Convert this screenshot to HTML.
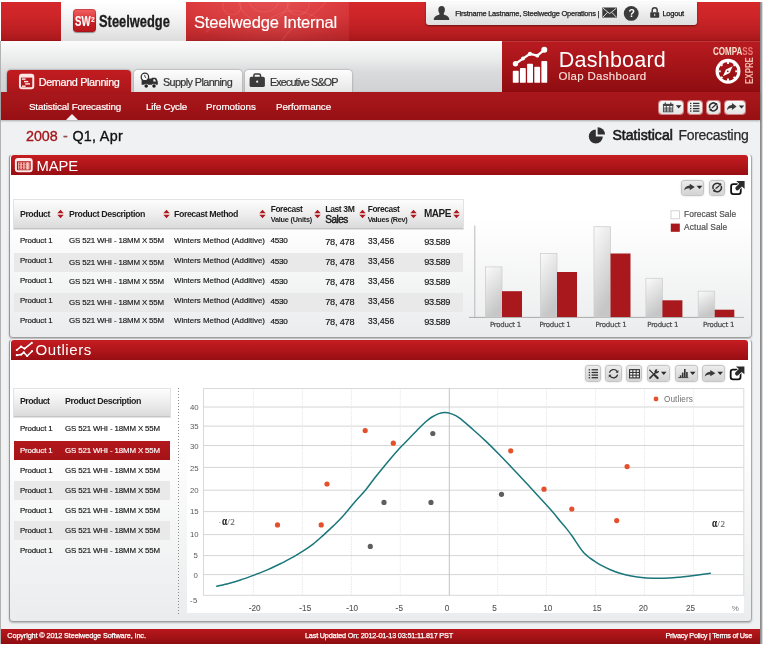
<!DOCTYPE html>
<html lang="en"><head><meta charset="utf-8"><title>Steelwedge Internal - Olap Dashboard</title>
<style>
html,body{margin:0;padding:0}
body{width:763px;height:646px;position:relative;overflow:hidden;background:#fff;font-family:"Liberation Sans",sans-serif}
div,svg,span.t{position:absolute}
span.t{white-space:nowrap;display:block}
#page{left:1px;top:2px;width:759px;height:642px;background:#f0f1f2}
#edgeL{left:0;top:41px;width:1px;height:603px;background:#b2b2b2}
#edgeR{left:760px;top:2px;width:1px;height:642px;background:#8d8d8d}
#edgeR2{left:761px;top:2px;width:2px;height:642px;background:linear-gradient(90deg,#a2a2a2 50%,#dcdcdc 50%)}
#hdr{left:1px;top:2px;width:759px;height:39px;background:linear-gradient(#d6282b,#cb2427 42%,#b81d21 80%,#a6171b);box-shadow:inset 0 -1px 0 #9a1418}
#hdrglow{left:186px;top:2px;width:163px;height:39px;overflow:hidden;background:linear-gradient(90deg,rgba(255,150,150,.10),rgba(255,150,150,.16) 60%,rgba(255,150,150,.10)),radial-gradient(ellipse 110px 40px at 80px 0,rgba(255,140,140,.25),rgba(255,140,140,0))}
#logo{left:61px;top:2px;width:125px;height:39px;background:linear-gradient(#ffffff,#f1f1f1 50%,#dcdcdc)}
#swicon{left:73.3px;top:9px;width:23px;height:23px;border-radius:4px;background:linear-gradient(#f06264,#d93033 48%,#c92226 52%,#b5171b);box-shadow:0 1px 1px rgba(0,0,0,.4),inset 0 0 0 1px rgba(150,10,15,.35)}
#user{left:426px;top:2px;width:270.7px;height:23px;border-radius:0 0 3px 3px;background:linear-gradient(#fbfbfb,#dedede);box-shadow:0 1px 2px rgba(0,0,0,.45)}
#band{left:1px;top:41px;width:759px;height:51px;background:linear-gradient(#fcfcfc,#e9eaea 38%,#d9dadb 62%,#cfd1d2)}
#dash{left:502px;top:41px;width:258px;height:51px;background:linear-gradient(#b81b20,#a41418 50%,#8e0d11);box-shadow:inset 0 1px 0 rgba(255,255,255,.12)}
.tab{top:70px;height:22px;border-radius:4px 4px 0 0}
#tab1{left:7px;width:124px;background:linear-gradient(#c21c20,#ab171b);box-shadow:0 0 2px rgba(0,0,0,.5)}
#tab2{left:134px;width:108px}
#tab3{left:245px;width:107px}
#tab2,#tab3{background:linear-gradient(#fdfdfd,#e6e6e6);box-shadow:0 0 2px rgba(0,0,0,.45)}
#subnav{left:1px;top:92px;width:759px;height:28px;background:linear-gradient(#a9171b,#a21418 50%,#960f13);box-shadow:0 1px 2px rgba(0,0,0,.3)}
#notch{left:66px;top:114px;width:0;height:0;border-left:6px solid transparent;border-right:6px solid transparent;border-bottom:6px solid #f2f2f2}
.btn{border-radius:3px;background:linear-gradient(#ececec,#d3d3d3);box-shadow:0 0 0 1px #c6c6c6,0 0 2px 1px rgba(0,0,0,.18)}
.nb{background:linear-gradient(#fafafa,#e4e4e4);box-shadow:0 0 0 1px rgba(255,220,220,.55)}
.panel{left:9px;width:741px;border:1px solid #adadad;border-color:#ececec #a9a9a9 #9f9f9f #979797;border-radius:4px;background:linear-gradient(#ffffff,#ffffff 35%,#ebeced);box-shadow:0 1px 2px rgba(0,0,0,.25)}
.phead{left:11px;width:737px;height:20px;border-radius:3px 3px 0 0;background:linear-gradient(#c51c21,#b0161a 50%,#970e12)}
.thead{height:28px;background:linear-gradient(#fdfdfd,#eeeeee 50%,#dadada);border-bottom:1px solid #c4c4c4;box-shadow:0 0 0 1px #e3e3e3}
.row{height:20px;background:#e9e9e9}
.rowsel{height:19px;background:linear-gradient(#b3181d,#a51317)}
#foot{left:1px;top:629px;width:759px;height:15px;background:linear-gradient(#b8171c,#a51317 50%,#8d0c10)}
</style></head><body>
<div id="page"></div>
<div id="edgeL"></div><div id="edgeR"></div><div id="edgeR2"></div>
<div id="hdr"></div><div id="hdrglow"><svg style="left:0;top:0" width="163" height="39" viewBox="0 0 163 39"><g fill="none" stroke="#ff9b9b" stroke-opacity=".16" stroke-width="1.2"><circle cx="78" cy="-6" r="16"/><circle cx="78" cy="-6" r="26"/><circle cx="112" cy="2" r="11"/><circle cx="46" cy="4" r="9"/><path d="M20 30C40 10 60 34 82 18S120 8 150 26"/><path d="M96 39C104 22 124 20 140 0"/></g></svg></div>
<div id="logo"></div><div id="swicon"></div>
<div id="user"></div>
<div id="band"></div>
<div id="dash"></div>
<div class="tab" id="tab1"></div><div class="tab" id="tab2"></div><div class="tab" id="tab3"></div>
<div id="subnav"></div><div id="notch"></div>
<div class="panel" style="top:154px;height:182px"></div>
<div class="phead" style="top:155px"></div>
<div class="thead" style="left:14px;top:200px;width:449px"></div>
<div class="row" style="left:14px;top:253px;width:449px;height:19.4px"></div>
<div class="row" style="left:14px;top:293px;width:449px;height:19.4px"></div>
<svg style="left:57.0px;top:209.4px" width="7" height="10" viewBox="0 0 7 10"><path d="M3.5 0.8 L6.7 4.3 H0.3 Z M3.5 9.2 L6.7 5.7 H0.3 Z" fill="#b0171c"/></svg>
<svg style="left:163.0px;top:209.4px" width="7" height="10" viewBox="0 0 7 10"><path d="M3.5 0.8 L6.7 4.3 H0.3 Z M3.5 9.2 L6.7 5.7 H0.3 Z" fill="#b0171c"/></svg>
<svg style="left:258.6px;top:209.4px" width="7" height="10" viewBox="0 0 7 10"><path d="M3.5 0.8 L6.7 4.3 H0.3 Z M3.5 9.2 L6.7 5.7 H0.3 Z" fill="#b0171c"/></svg>
<svg style="left:314.4px;top:209.4px" width="7" height="10" viewBox="0 0 7 10"><path d="M3.5 0.8 L6.7 4.3 H0.3 Z M3.5 9.2 L6.7 5.7 H0.3 Z" fill="#b0171c"/></svg>
<svg style="left:358.9px;top:209.4px" width="7" height="10" viewBox="0 0 7 10"><path d="M3.5 0.8 L6.7 4.3 H0.3 Z M3.5 9.2 L6.7 5.7 H0.3 Z" fill="#b0171c"/></svg>
<svg style="left:410.3px;top:209.4px" width="7" height="10" viewBox="0 0 7 10"><path d="M3.5 0.8 L6.7 4.3 H0.3 Z M3.5 9.2 L6.7 5.7 H0.3 Z" fill="#b0171c"/></svg>
<svg style="left:453.0px;top:209.4px" width="7" height="10" viewBox="0 0 7 10"><path d="M3.5 0.8 L6.7 4.3 H0.3 Z M3.5 9.2 L6.7 5.7 H0.3 Z" fill="#b0171c"/></svg>
<svg style="left:0;top:0" width="763" height="646" viewBox="0 0 763 646"><defs><linearGradient id="gb" x1="0" y1="0" x2="0.35" y2="1"><stop offset="0" stop-color="#fbfbfb"/><stop offset="1" stop-color="#c6c6c6"/></linearGradient></defs><path d="M474.8 225.6V318" stroke="#b9b9b9" stroke-width="1" fill="none"/><path d="M469 317.4H744" stroke="#a9a9a9" stroke-width="1" fill="none"/><rect x="485.4" y="266.9" width="16.6" height="50.1" fill="url(#gb)" stroke="#cfcfcf" stroke-width="0.8"/><rect x="502" y="291.2" width="20.0" height="25.8" fill="#a9181d"/><rect x="540.5" y="253.5" width="16.5" height="63.5" fill="url(#gb)" stroke="#cfcfcf" stroke-width="0.8"/><rect x="557" y="272" width="20.0" height="45.0" fill="#a9181d"/><rect x="594" y="226.7" width="16.5" height="90.3" fill="url(#gb)" stroke="#cfcfcf" stroke-width="0.8"/><rect x="610.5" y="253.5" width="20.0" height="63.5" fill="#a9181d"/><rect x="645.9" y="278.3" width="16.5" height="38.7" fill="url(#gb)" stroke="#cfcfcf" stroke-width="0.8"/><rect x="662.4" y="300.3" width="20.0" height="16.7" fill="#a9181d"/><rect x="698.2" y="291.2" width="16.5" height="25.8" fill="url(#gb)" stroke="#cfcfcf" stroke-width="0.8"/><rect x="714.7" y="309.7" width="19.6" height="7.3" fill="#a9181d"/><rect x="671" y="210.8" width="8.5" height="8" fill="#fff" stroke="#c9c9c9" stroke-width="0.8"/><rect x="670.8" y="223.6" width="9" height="8.2" fill="#a9181d"/></svg>
<div class="panel" style="top:339px;height:281px"></div>
<div class="phead" style="top:340px"></div>
<div class="thead" style="left:14px;top:389px;width:156px;height:27px"></div>
<div class="rowsel" style="left:14px;top:441px;width:156px"></div>
<div class="row" style="left:14px;top:481px;width:156px;height:19px"></div>
<div class="row" style="left:14px;top:521px;width:156px;height:19px"></div>
<div style="left:177.5px;top:388px;width:1px;height:226px;background:repeating-linear-gradient(#8c8c8c 0,#8c8c8c 1px,transparent 1px,transparent 3px)"></div>
<div style="left:187px;top:388px;width:557px;height:225px;background:#fff"></div>
<svg style="left:0;top:0" width="763" height="646" viewBox="0 0 763 646"><rect x="203.5" y="388.5" width="540.3" height="206.8" fill="#fff" stroke="#d9d9d9" stroke-width="1"/><path d="M203.5 407H743.8" stroke="#d6d6d6" stroke-width="1"/><path d="M203.5 426.1H743.8" stroke="#d6d6d6" stroke-width="1"/><path d="M203.5 445.5H743.8" stroke="#d6d6d6" stroke-width="1"/><path d="M203.5 467.4H743.8" stroke="#d6d6d6" stroke-width="1"/><path d="M203.5 490.2H743.8" stroke="#d6d6d6" stroke-width="1"/><path d="M203.5 511.6H743.8" stroke="#d6d6d6" stroke-width="1"/><path d="M203.5 534.6H743.8" stroke="#d6d6d6" stroke-width="1"/><path d="M203.5 555.6H743.8" stroke="#d6d6d6" stroke-width="1"/><path d="M203.5 574.6H743.8" stroke="#d6d6d6" stroke-width="1"/><path d="M253.4 388.5V595.3" stroke="#e4e4e4" stroke-width="0.8" stroke-dasharray="1.5 1"/><path d="M302.4 388.5V595.3" stroke="#e4e4e4" stroke-width="0.8" stroke-dasharray="1.5 1"/><path d="M351.4 388.5V595.3" stroke="#e4e4e4" stroke-width="0.8" stroke-dasharray="1.5 1"/><path d="M400.3 388.5V595.3" stroke="#e4e4e4" stroke-width="0.8" stroke-dasharray="1.5 1"/><path d="M497.7 388.5V595.3" stroke="#e4e4e4" stroke-width="0.8" stroke-dasharray="1.5 1"/><path d="M546.4 388.5V595.3" stroke="#e4e4e4" stroke-width="0.8" stroke-dasharray="1.5 1"/><path d="M595.6 388.5V595.3" stroke="#e4e4e4" stroke-width="0.8" stroke-dasharray="1.5 1"/><path d="M644.5 388.5V595.3" stroke="#e4e4e4" stroke-width="0.8" stroke-dasharray="1.5 1"/><path d="M693.4 388.5V595.3" stroke="#e4e4e4" stroke-width="0.8" stroke-dasharray="1.5 1"/><path d="M449.3 388.5V595.3" stroke="#c4c4c4" stroke-width="1"/><path d="M216.8 586.3C218.8 585.8 224.7 584.4 228.6 583.4C232.5 582.4 236.2 581.4 240.4 580C244.7 578.6 249.5 576.8 254.1 575.1C258.7 573.4 263.3 571.6 267.9 569.6C272.5 567.6 277.4 565.2 281.7 563.1C286.0 561.0 289.9 558.8 293.5 556.8C297.1 554.8 300.0 553.0 303.3 550.9C306.6 548.8 309.8 546.6 313.1 544.1C316.4 541.6 319.6 538.6 322.9 535.6C326.2 532.6 329.5 529.6 332.8 526.4C336.1 523.2 338.9 520.6 342.6 516.5C346.3 512.4 351.2 506.2 355 501.8C358.8 497.4 362.4 493.9 365.6 490C368.8 486.1 371.3 482.3 374.1 478.7C376.9 475.1 379.8 471.7 382.6 468.2C385.4 464.7 388.3 461.2 391.1 457.9C393.9 454.6 396.8 451.3 399.6 448.2C402.5 445.1 405.4 442.4 408.2 439.5C411.0 436.6 413.9 433.6 416.7 430.7C419.5 427.8 422.6 424.5 425.2 422.2C427.8 419.9 429.7 418.4 432 417C434.3 415.6 436.7 414.4 438.8 413.6C440.9 412.9 442.8 412.5 444.8 412.5C446.8 412.5 448.4 412.7 450.8 413.6C453.2 414.5 455.6 415.2 459.3 417.9C463.0 420.6 468.7 425.8 473.2 429.7C477.7 433.6 481.9 437.4 486.3 441.6C490.7 445.8 495.1 450.2 499.5 454.7C503.9 459.2 508.2 463.8 512.6 468.4C517.0 473.0 521.4 477.7 525.8 482.4C530.2 487.1 534.5 492.0 538.9 496.8C543.3 501.6 548.6 507.3 552.1 511.3C555.6 515.3 557.6 518.1 560 521C562.4 523.9 564.2 525.8 566.3 528.4C568.4 531.0 570.5 533.8 572.6 536.8C574.7 539.8 577.0 543.5 578.9 546.2C580.8 548.9 582.4 551.2 584.1 553.1C585.9 555.0 587.5 556.2 589.4 557.7C591.3 559.2 593.5 560.6 595.6 561.9C597.7 563.2 599.5 564.4 601.9 565.7C604.3 567.0 607.1 568.4 610.3 569.7C613.4 571.0 617.3 572.5 620.8 573.5C624.3 574.5 627.4 575.3 631.3 576C635.1 576.7 639.7 577.3 643.9 577.7C648.1 578.1 652.3 578.2 656.5 578.3C660.7 578.4 664.8 578.3 669 578.1C673.2 577.9 677.4 577.4 681.6 577C685.8 576.6 690.4 576.1 694.2 575.6C698.1 575.1 702.0 574.5 704.7 574.1C707.4 573.7 709.4 573.4 710.3 573.3" fill="none" stroke="#19767a" stroke-width="1.5" stroke-linejoin="round" stroke-linecap="round"/><circle cx="277.5" cy="524.9" r="2.6" fill="#e4502a"/><circle cx="321.2" cy="524.9" r="2.6" fill="#e4502a"/><circle cx="327" cy="484" r="2.6" fill="#e4502a"/><circle cx="365.2" cy="430.6" r="2.6" fill="#e4502a"/><circle cx="393.3" cy="443.2" r="2.6" fill="#e4502a"/><circle cx="510.7" cy="450.8" r="2.6" fill="#e4502a"/><circle cx="544" cy="489.2" r="2.6" fill="#e4502a"/><circle cx="571.8" cy="509" r="2.6" fill="#e4502a"/><circle cx="616.7" cy="520.6" r="2.6" fill="#e4502a"/><circle cx="627.1" cy="466.6" r="2.6" fill="#e4502a"/><circle cx="432.8" cy="433.5" r="2.6" fill="#5e5e5e"/><circle cx="501.5" cy="494.3" r="2.6" fill="#5e5e5e"/><circle cx="384" cy="502.4" r="2.6" fill="#5e5e5e"/><circle cx="431" cy="502.4" r="2.6" fill="#5e5e5e"/><circle cx="370.3" cy="546.4" r="2.6" fill="#5e5e5e"/><circle cx="656" cy="399" r="2.4" fill="#e4502a"/></svg>
<div id="foot"></div>
<div class="btn nb" style="left:659.1px;top:100.5px;width:24.3px;height:13.4px"></div>
<div class="btn nb" style="left:687.6px;top:100.5px;width:14.1px;height:13.4px"></div>
<div class="btn nb" style="left:706.5px;top:100.5px;width:13.4px;height:13.4px"></div>
<div class="btn nb" style="left:724.5px;top:100.5px;width:20.4px;height:13.4px"></div>
<div class="btn" style="left:682.2px;top:180.8px;width:20.6px;height:14.3px"></div>
<div class="btn" style="left:710.3px;top:180.8px;width:13.4px;height:14.3px"></div>
<div class="btn" style="left:585.8px;top:366.4px;width:14.6px;height:14.5px"></div>
<div class="btn" style="left:606.2px;top:366.4px;width:14.9px;height:14.5px"></div>
<div class="btn" style="left:627.4px;top:366.4px;width:13.7px;height:14.5px"></div>
<div class="btn" style="left:648.3px;top:366.4px;width:20.9px;height:14.5px"></div>
<div class="btn" style="left:676.4px;top:366.4px;width:21.1px;height:14.5px"></div>
<div class="btn" style="left:703.0px;top:366.4px;width:21.1px;height:14.5px"></div>
<svg style="left:0;top:0" width="763" height="646" viewBox="0 0 763 646"><ellipse cx="441.6" cy="9.8" rx="3.3" ry="3.9" fill="#3b3b3b"/><path d="M433.8 19.9C433.8 16.4 436.6 15.7 439.4 14.6L439.5 12H443.7L443.8 14.6C446.6 15.7 449.3 16.4 449.3 19.9Z" fill="#3b3b3b"/><rect x="602.3" y="7.5" width="14.7" height="10.1" fill="#3b3b3b"/><path d="M602.9 8.1L609.65 13.6L616.4 8.1M602.9 17.1L607.6 12.3M616.4 17.1L611.7 12.3" stroke="#ececec" stroke-width="0.9" fill="none"/><circle cx="631.2" cy="13.4" r="7.4" fill="#3b3b3b"/><rect x="650.2" y="12.2" width="9" height="5.5" rx="0.7" fill="#3b3b3b"/><path d="M652.2 12.5V10.3a2.5 2.6 0 0 1 5 0V12.5" stroke="#3b3b3b" stroke-width="1.5" fill="none"/><rect x="654.2" y="13.8" width="1" height="2.2" fill="#d8d8d8"/><rect x="512.8" y="70.8" width="5.9" height="12.0" rx="0.9" fill="#fff"/><rect x="519.9" y="68.1" width="5.9" height="14.7" rx="0.9" fill="#fff"/><rect x="527.1" y="63.8" width="5.9" height="19.0" rx="0.9" fill="#fff"/><rect x="534.3" y="66.8" width="5.8" height="16.0" rx="0.9" fill="#fff"/><rect x="541.4" y="60.9" width="5.8" height="21.9" rx="0.9" fill="#fff"/><path d="M515.5 63.8L523 58.6L530 53.8L537.3 55.7L544.3 49.8" stroke="#fff" stroke-width="2.3" fill="none" stroke-linejoin="round"/><circle cx="515.5" cy="63.8" r="2.7" fill="#fff"/><circle cx="523" cy="58.6" r="2.0" fill="#fff"/><circle cx="530" cy="53.8" r="2.1" fill="#fff"/><circle cx="537.3" cy="55.7" r="1.9" fill="#fff"/><circle cx="544.3" cy="49.8" r="3.0" fill="#fff"/><circle cx="728" cy="71.3" r="10.9" stroke="#fff" stroke-width="3.1" fill="none"/><path d="M737.60 71.30L735.30 71.30" stroke="#fff" stroke-width="1.9"/><path d="M734.79 78.09L733.59 76.89" stroke="#fff" stroke-width="1.9"/><path d="M728.00 80.90L728.00 78.60" stroke="#fff" stroke-width="1.9"/><path d="M721.21 78.09L722.41 76.89" stroke="#fff" stroke-width="1.9"/><path d="M718.40 71.30L720.70 71.30" stroke="#fff" stroke-width="1.9"/><path d="M721.21 64.51L722.41 65.71" stroke="#fff" stroke-width="1.9"/><path d="M728.00 61.70L728.00 64.00" stroke="#fff" stroke-width="1.9"/><path d="M734.79 64.51L733.59 65.71" stroke="#fff" stroke-width="1.9"/><path d="M732.70 66.30L729.66 73.12L722.90 76.30L725.94 69.48Z" fill="#fff"/><circle cx="727.8" cy="71.3" r="0.9" fill="#a51419"/><rect x="19.95" y="74.85" width="13.3" height="13.5" rx="2" stroke="#fde6e6" stroke-width="2" fill="none"/><rect x="19.9" y="74.8" width="13.4" height="2.8" fill="#fde6e6"/><rect x="21.9" y="78.4" width="3.7" height="1.4" fill="#fde6e6"/><rect x="24" y="80.9" width="4.2" height="1.4" fill="#fde6e6"/><rect x="25.2" y="83.2" width="4.8" height="1.4" fill="#fde6e6"/><rect x="21.9" y="85.5" width="3.7" height="1.4" fill="#fde6e6"/><path d="M141.6 78.4H151.8V77.8H154.9Q156.3 77.8 156.9 79.2L157.8 81.8V84.8H141.6Z" fill="#303030"/><path d="M153.3 79.2H155L156 81.5H153.3Z" fill="#f2f2f2"/><circle cx="144.9" cy="76.9" r="3.7" fill="#fafafa" stroke="#303030" stroke-width="1.25"/><path d="M144.6 74.9L145.1 77.1L146.2 77.9" stroke="#303030" stroke-width="0.9" fill="none"/><circle cx="146.2" cy="86" r="2.3" fill="#eeeeee"/><circle cx="146.2" cy="86.1" r="1.75" fill="#1e1e1e"/><circle cx="154" cy="86" r="2.3" fill="#eeeeee"/><circle cx="154" cy="86.1" r="1.75" fill="#1e1e1e"/><rect x="249.6" y="76.8" width="15.3" height="10.3" rx="1.9" fill="#3b3b3b"/><path d="M253.9 77.2V75.4a1.4 1.4 0 0 1 1.4-1.4h3.8a1.4 1.4 0 0 1 1.4 1.4V77.2" stroke="#3b3b3b" stroke-width="1.5" fill="none"/><circle cx="257.2" cy="81.7" r="1.1" fill="#f0f0f0"/><rect x="663.4" y="104.4" width="9.4" height="7.4" fill="#f4f4f4" stroke="#444" stroke-width="0.9"/><rect x="663" y="103.9" width="10.2" height="2.1" fill="#444"/><path d="M665.3 102.6V104.6M670.8 102.6V104.6" stroke="#444" stroke-width="1.3"/><path d="M666.3 106V111.8M669.8 106V111.8M663.4 108.1H672.8M663.4 110H672.8" stroke="#3a3a3a" stroke-width="0.9"/><path d="M675.9 105.3H681.4L678.65 108.4Z" fill="#2b2b2b"/><rect x="690" y="102.75" width="1.4" height="1.3" fill="#333"/><rect x="693" y="102.75" width="6.4" height="1.3" fill="#333"/><rect x="690" y="105.25" width="1.4" height="1.3" fill="#333"/><rect x="693" y="105.25" width="6.4" height="1.3" fill="#333"/><rect x="690" y="107.94999999999999" width="1.4" height="1.3" fill="#333"/><rect x="693" y="107.94999999999999" width="6.4" height="1.3" fill="#333"/><rect x="690" y="110.44999999999999" width="1.4" height="1.3" fill="#333"/><rect x="693" y="110.44999999999999" width="6.4" height="1.3" fill="#333"/><path d="M709.73 108.23A3.9 3.9 0 0 1 716.16 104.14M717.07 105.57A3.9 3.9 0 0 1 710.64 109.66" stroke="#2f2f2f" stroke-width="1.5" fill="none"/><circle cx="716.16" cy="104.14" r="1.20" fill="#2f2f2f"/><circle cx="710.64" cy="109.66" r="1.20" fill="#2f2f2f"/><path d="M712.30 107.70L715.10 105.30" stroke="#2f2f2f" stroke-width="1.27" stroke-linecap="round"/><path d="M731.94 103.10L736.60 106.56L731.94 110.01V108.00C729.81 107.85 728.16 108.72 726.90 110.30C727.09 107.28 728.84 105.26 731.94 105.04Z" fill="#3a3a3a"/><path d="M738.8 105.39999999999999H744.2L741.50 108.5Z" fill="#2b2b2b"/><path d="M595.8 136.5V129.5A7 7 0 1 0 602.8 136.5Z" fill="#2f2f2f"/><path d="M597.6 134.6V127.2A7.4 7.4 0 0 1 605 134.6Z" fill="#2f2f2f"/><rect x="15.9" y="158.9" width="15.8" height="12.3" rx="2.2" stroke="#fdecec" stroke-width="2" fill="none"/><rect x="15.9" y="158.9" width="15.8" height="2.3" fill="#fdecec"/><rect x="18" y="162.3" width="11.6" height="7.2" fill="#f0a9a2"/><path d="M19.7 162.6V169.4M22.5 162.6V169.4M25.3 162.6V169.4" stroke="#a4161a" stroke-width="0.9" stroke-dasharray="1.7 0.7"/><path d="M27.6 162.3V169.5" stroke="#f8cfc9" stroke-width="1"/><path d="M16.8 350L21 346.6L24.6 348.6L31.8 342.9" stroke="#fff" stroke-width="1.5" fill="none" stroke-linejoin="round"/><path d="M16.8 355.2L21.2 354.6L23.8 352.4L27.2 356L32 351.2" stroke="#fff" stroke-width="1.5" fill="none" stroke-linejoin="round"/><circle cx="16.8" cy="350" r="1.1" fill="#fff"/><circle cx="21" cy="346.6" r="1.1" fill="#fff"/><circle cx="24.6" cy="348.6" r="1.1" fill="#fff"/><circle cx="31.8" cy="342.9" r="1.1" fill="#fff"/><circle cx="16.8" cy="355.2" r="1.1" fill="#fff"/><circle cx="21.2" cy="354.6" r="1.1" fill="#fff"/><circle cx="23.8" cy="352.4" r="1.1" fill="#fff"/><circle cx="27.2" cy="356" r="1.1" fill="#fff"/><circle cx="32" cy="351.2" r="1.1" fill="#fff"/><path d="M689.71 183.70L694.80 187.01L689.71 190.32V188.39C687.38 188.25 685.58 189.08 684.20 190.60C684.41 187.70 686.32 185.77 689.71 185.56Z" fill="#3a3a3a"/><path d="M696.6 185.70000000000002H702.4L699.50 189.1Z" fill="#2b2b2b"/><path d="M713.25 188.93A4.2 4.2 0 0 1 720.17 184.53M721.15 186.07A4.2 4.2 0 0 1 714.23 190.47" stroke="#2f2f2f" stroke-width="1.5" fill="none"/><circle cx="720.17" cy="184.53" r="1.20" fill="#2f2f2f"/><circle cx="714.23" cy="190.47" r="1.20" fill="#2f2f2f"/><path d="M716.10 188.30L718.90 185.90" stroke="#2f2f2f" stroke-width="1.27" stroke-linecap="round"/><rect x="731.10" y="184.15" width="9.67" height="9.95" rx="2.3" stroke="#111" stroke-width="1.8" fill="none"/><path d="M736.23 181.10H744.60V188.88L741.96 186.52L738.43 190.00Q736.67 191.11 735.79 189.44Q734.61 187.77 736.08 186.66L739.17 183.74Z" fill="#2b2b2b" stroke="#fff" stroke-width="1.5" paint-order="stroke" stroke-linejoin="round"/><rect x="588.7" y="369.15000000000003" width="1.4" height="1.3" fill="#333"/><rect x="591.6" y="369.15000000000003" width="6.4" height="1.3" fill="#333"/><rect x="588.7" y="371.85" width="1.4" height="1.3" fill="#333"/><rect x="591.6" y="371.85" width="6.4" height="1.3" fill="#333"/><rect x="588.7" y="374.45000000000005" width="1.4" height="1.3" fill="#333"/><rect x="591.6" y="374.45000000000005" width="6.4" height="1.3" fill="#333"/><rect x="588.7" y="377.05" width="1.4" height="1.3" fill="#333"/><rect x="591.6" y="377.05" width="6.4" height="1.3" fill="#333"/><path d="M609.5 372.7A4.2 4.2 0 0 1 617.2 371.6M617.6 374.7A4.2 4.2 0 0 1 609.9 375.8" stroke="#2e2e2e" stroke-width="1.2" fill="none"/><path d="M618.3 370V372.7H615.6ZM608.8 377.4V374.7H611.5Z" fill="#2e2e2e"/><rect x="629.6" y="369.7" width="9.8" height="8.2" stroke="#2e2e2e" stroke-width="1.1" fill="#f6f6f6"/><path d="M632.85 369.7V377.9M636.15 369.7V377.9M629.6 372.45H639.4M629.6 375.15H639.4" stroke="#2e2e2e" stroke-width="1"/><path d="M649.6 370L654.2 374.6" stroke="#2e2e2e" stroke-width="1.1" stroke-linecap="round"/><path d="M654.8 375.2L657.6 378" stroke="#2e2e2e" stroke-width="2.3" stroke-linecap="round"/><path d="M649.9 378.1L655.8 372.2" stroke="#2e2e2e" stroke-width="1.5" stroke-linecap="round"/><circle cx="656.7" cy="371.3" r="2.1" fill="#2e2e2e"/><path d="M656.6 371.4L657.7 368.6L659.6 370.4Z" fill="#e0e0e0"/><path d="M661.0 371.7H666.5L663.75 374.9Z" fill="#2b2b2b"/><path d="M678.3 377.6H688.3" stroke="#333" stroke-width="0.9"/><rect x="679.8" y="375.3" width="1.6" height="1.9" fill="#333"/><rect x="681.9" y="372.6" width="1.6" height="4.6" fill="#333"/><rect x="684" y="369" width="1.6" height="8.2" fill="#333"/><rect x="686.1" y="372" width="1.6" height="5.2" fill="#333"/><path d="M689.9 371.7H695.5L692.70 374.9Z" fill="#2b2b2b"/><path d="M710.31 370.00L715.40 373.17L710.31 376.34V374.49C707.98 374.36 706.18 375.15 704.80 376.60C705.01 373.83 706.92 371.98 710.31 371.78Z" fill="#3a3a3a"/><path d="M717.4 371.7H723.0L720.20 374.9Z" fill="#2b2b2b"/><rect x="730.70" y="369.54" width="9.82" height="9.86" rx="2.3" stroke="#111" stroke-width="1.8" fill="none"/><path d="M735.91 366.50H744.40V374.23L741.72 371.88L738.14 375.33Q736.36 376.44 735.46 374.78Q734.27 373.12 735.76 372.02L738.89 369.12Z" fill="#2b2b2b" stroke="#fff" stroke-width="1.5" paint-order="stroke" stroke-linejoin="round"/></svg>
<span class="t" id="t0" style="left:75.4px;top:11.00px;font-size:14.6px;line-height:21px;font-weight:700;color:#ffffff;font-family:'Liberation Sans', sans-serif;transform:scaleX(0.6591);transform-origin:0 50%;-webkit-text-stroke:0.2px #ffffff;">SW</span>
<span class="t" id="t1" style="left:91.2px;top:14.00px;font-size:7.4px;line-height:12px;font-weight:700;color:#ffffff;font-family:'Liberation Sans', sans-serif;transform:scaleX(0.8970);transform-origin:0 50%;-webkit-text-stroke:0.1px #ffffff;">2</span>
<span class="t" id="t2" style="left:99.3px;top:11.00px;font-size:15.6px;line-height:22px;font-weight:700;color:#1c1c1c;font-family:'Liberation Sans', sans-serif;transform:scaleX(0.8264);transform-origin:0 50%;-webkit-text-stroke:0.3px #1c1c1c;">Steelwedge</span>
<span class="t" id="t3" style="left:194px;top:11.00px;font-size:16.5px;line-height:23px;font-weight:400;color:#ffffff;font-family:'Liberation Sans', sans-serif;letter-spacing:-0.150px;-webkit-text-stroke:0.15px #ffffff;">Steelwedge Internal</span>
<span class="t" id="t4" style="left:455.2px;top:8.00px;font-size:7.5px;line-height:12px;font-weight:400;color:#222;font-family:'Liberation Sans', sans-serif;letter-spacing:-0.243px;-webkit-text-stroke:0.25px #222;">Firstname Lastname, Steelwedge Operations |</span>
<span class="t" id="t5" style="left:662.4px;top:8.00px;font-size:7.5px;line-height:12px;font-weight:400;color:#151515;font-family:'Liberation Sans', sans-serif;letter-spacing:-0.226px;-webkit-text-stroke:0.25px #151515;">Logout</span>
<span class="t" id="t6" style="left:628.4px;top:5.00px;font-size:10.5px;line-height:16px;font-weight:700;color:#ffffff;font-family:'Liberation Sans', sans-serif;letter-spacing:-0.822px;">?</span>
<span class="t" id="t7" style="left:558.8px;top:45.00px;font-size:21.5px;line-height:30px;font-weight:400;color:#ffffff;font-family:'Liberation Sans', sans-serif;letter-spacing:0.224px;">Dashboard</span>
<span class="t" id="t8" style="left:558.4px;top:68.00px;font-size:11.5px;line-height:17px;font-weight:400;color:#fbe4de;font-family:'Liberation Sans', sans-serif;letter-spacing:0.318px;-webkit-text-stroke:0.1px #fbe4de;">Olap Dashboard</span>
<span class="t" id="t9" style="left:713.2px;top:44.00px;font-size:10.2px;line-height:15px;font-weight:700;color:#f8e3cf;font-family:'Liberation Sans', sans-serif;transform:scaleX(0.7879);transform-origin:0 50%;">COMPA<span style="color:#ec7a76">SS</span></span>
<span class="t" id="t10" style="left:729.89px;top:62.00px;font-size:11.4px;line-height:17px;font-weight:700;color:#f3b5a8;font-family:'Liberation Sans', sans-serif;transform:rotate(-90deg) scaleX(0.6939);transform-origin:50% 50%;">EXPRE</span>
<span class="t" id="t11" style="left:38.7px;top:74.00px;font-size:10.8px;line-height:16px;font-weight:400;color:#ffffff;font-family:'Liberation Sans', sans-serif;letter-spacing:-0.336px;-webkit-text-stroke:0.2px #ffffff;">Demand Planning</span>
<span class="t" id="t12" style="left:162.9px;top:74.00px;font-size:10.8px;line-height:16px;font-weight:400;color:#333;font-family:'Liberation Sans', sans-serif;letter-spacing:-0.583px;-webkit-text-stroke:0.2px #333;">Supply Planning</span>
<span class="t" id="t13" style="left:269.9px;top:74.00px;font-size:10.8px;line-height:16px;font-weight:400;color:#333;font-family:'Liberation Sans', sans-serif;letter-spacing:-0.858px;-webkit-text-stroke:0.2px #333;">Executive S&amp;OP</span>
<span class="t" id="t14" style="left:29px;top:99.00px;font-size:9.8px;line-height:15px;font-weight:400;color:#ffffff;font-family:'Liberation Sans', sans-serif;letter-spacing:-0.167px;-webkit-text-stroke:0.2px #ffffff;">Statistical Forecasting</span>
<span class="t" id="t15" style="left:146px;top:99.00px;font-size:9.8px;line-height:15px;font-weight:400;color:#ffffff;font-family:'Liberation Sans', sans-serif;letter-spacing:-0.202px;-webkit-text-stroke:0.2px #ffffff;">Life Cycle</span>
<span class="t" id="t16" style="left:206px;top:99.00px;font-size:9.8px;line-height:15px;font-weight:400;color:#ffffff;font-family:'Liberation Sans', sans-serif;letter-spacing:0.044px;-webkit-text-stroke:0.2px #ffffff;">Promotions</span>
<span class="t" id="t17" style="left:276px;top:99.00px;font-size:9.8px;line-height:15px;font-weight:400;color:#ffffff;font-family:'Liberation Sans', sans-serif;letter-spacing:-0.099px;-webkit-text-stroke:0.2px #ffffff;">Performance</span>
<span class="t" id="t18" style="left:26px;top:126.00px;font-size:14.3px;line-height:21px;font-weight:400;color:#a5171c;font-family:'Liberation Sans', sans-serif;letter-spacing:-0.028px;-webkit-text-stroke:0.35px #a5171c;">2008</span>
<span class="t" id="t19" style="left:63px;top:126.00px;font-size:14.3px;line-height:21px;font-weight:400;color:#96494b;font-family:'Liberation Sans', sans-serif;letter-spacing:-0.366px;-webkit-text-stroke:0.3px #96494b;">-</span>
<span class="t" id="t20" style="left:72.4px;top:126.00px;font-size:14.3px;line-height:21px;font-weight:400;color:#111;font-family:'Liberation Sans', sans-serif;letter-spacing:0.302px;-webkit-text-stroke:0.35px #111;">Q1, Apr</span>
<span class="t" id="t21" style="left:612.4px;top:125.00px;font-size:14px;line-height:20px;font-weight:400;color:#1a1a1a;font-family:'Liberation Sans', sans-serif;letter-spacing:0.053px;-webkit-text-stroke:0.6px #1a1a1a;">Statistical</span>
<span class="t" id="t22" style="left:678.4px;top:125.00px;font-size:14px;line-height:20px;font-weight:400;color:#2a2a2a;font-family:'Liberation Sans', sans-serif;letter-spacing:-0.287px;-webkit-text-stroke:0.25px #2a2a2a;">Forecasting</span>
<span class="t" id="t23" style="left:36.6px;top:156.00px;font-size:14.8px;line-height:21px;font-weight:400;color:#ffffff;font-family:'Liberation Sans', sans-serif;letter-spacing:-0.134px;">MAPE</span>
<span class="t" id="t24" style="left:35.4px;top:339.00px;font-size:15px;line-height:22px;font-weight:400;color:#ffffff;font-family:'Liberation Sans', sans-serif;letter-spacing:0.614px;">Outliers</span>
<span class="t" id="t25" style="left:20px;top:208.00px;font-size:8.8px;line-height:13px;font-weight:700;color:#1d1d1d;font-family:'Liberation Sans', sans-serif;letter-spacing:-0.462px;">Product</span>
<span class="t" id="t26" style="left:69px;top:208.00px;font-size:8.8px;line-height:13px;font-weight:700;color:#1d1d1d;font-family:'Liberation Sans', sans-serif;letter-spacing:-0.425px;">Product Description</span>
<span class="t" id="t27" style="left:174px;top:208.00px;font-size:8.8px;line-height:13px;font-weight:700;color:#1d1d1d;font-family:'Liberation Sans', sans-serif;letter-spacing:-0.426px;">Forecast Method</span>
<span class="t" id="t28" style="left:270.7px;top:203.00px;font-size:8.4px;line-height:13px;font-weight:700;color:#1d1d1d;font-family:'Liberation Sans', sans-serif;letter-spacing:-0.403px;">Forecast</span>
<span class="t" id="t29" style="left:270.7px;top:214.00px;font-size:7.3px;line-height:11px;font-weight:700;color:#1d1d1d;font-family:'Liberation Sans', sans-serif;letter-spacing:-0.223px;">Value (Units)</span>
<span class="t" id="t30" style="left:325.3px;top:203.00px;font-size:8.6px;line-height:13px;font-weight:700;color:#1d1d1d;font-family:'Liberation Sans', sans-serif;letter-spacing:-0.414px;">Last 3M</span>
<span class="t" id="t31" style="left:325.3px;top:212.00px;font-size:10px;line-height:15px;font-weight:400;color:#1d1d1d;font-family:'Liberation Sans', sans-serif;letter-spacing:-0.503px;-webkit-text-stroke:0.45px #1d1d1d;">Sales</span>
<span class="t" id="t32" style="left:367.7px;top:203.00px;font-size:8.4px;line-height:13px;font-weight:700;color:#1d1d1d;font-family:'Liberation Sans', sans-serif;letter-spacing:-0.403px;">Forecast</span>
<span class="t" id="t33" style="left:367.7px;top:214.00px;font-size:7.3px;line-height:11px;font-weight:700;color:#1d1d1d;font-family:'Liberation Sans', sans-serif;letter-spacing:-0.301px;">Values (Rev)</span>
<span class="t" id="t34" style="left:424px;top:206.00px;font-size:10px;line-height:15px;font-weight:700;color:#1d1d1d;font-family:'Liberation Sans', sans-serif;letter-spacing:-0.477px;">MAPE</span>
<span class="t" id="t35" style="left:20px;top:235.00px;font-size:7.9px;line-height:12px;font-weight:400;color:#141414;font-family:'Liberation Sans', sans-serif;letter-spacing:-0.142px;-webkit-text-stroke:0.15px #141414;">Product 1</span>
<span class="t" id="t36" style="left:69px;top:235.00px;font-size:7.9px;line-height:12px;font-weight:400;color:#141414;font-family:'Liberation Sans', sans-serif;letter-spacing:-0.141px;-webkit-text-stroke:0.15px #141414;">GS 521 WHI - 18MM X 55M</span>
<span class="t" id="t37" style="left:174px;top:235.00px;font-size:7.9px;line-height:12px;font-weight:400;color:#141414;font-family:'Liberation Sans', sans-serif;letter-spacing:0.009px;-webkit-text-stroke:0.15px #141414;">Winters Method (Additive)</span>
<span class="t" id="t38" style="left:270.6px;top:234.00px;font-size:8.1px;line-height:13px;font-weight:400;color:#141414;font-family:'Liberation Sans', sans-serif;letter-spacing:-0.254px;-webkit-text-stroke:0.2px #141414;">4530</span>
<span class="t" id="t39" style="left:325.2px;top:235.00px;font-size:9.2px;line-height:14px;font-weight:400;color:#141414;font-family:'Liberation Sans', sans-serif;letter-spacing:-0.208px;-webkit-text-stroke:0.15px #141414;">78, 478</span>
<span class="t" id="t40" style="left:367.9px;top:235.00px;font-size:8.4px;line-height:13px;font-weight:400;color:#141414;font-family:'Liberation Sans', sans-serif;letter-spacing:0.129px;-webkit-text-stroke:0.15px #141414;">33,456</span>
<span class="t" id="t41" style="left:424.3px;top:235.00px;font-size:9.2px;line-height:14px;font-weight:400;color:#141414;font-family:'Liberation Sans', sans-serif;letter-spacing:-0.402px;-webkit-text-stroke:0.15px #141414;">93.589</span>
<span class="t" id="t42" style="left:20px;top:255.00px;font-size:7.9px;line-height:12px;font-weight:400;color:#141414;font-family:'Liberation Sans', sans-serif;letter-spacing:-0.142px;-webkit-text-stroke:0.15px #141414;">Product 1</span>
<span class="t" id="t43" style="left:69px;top:257.00px;font-size:7.9px;line-height:12px;font-weight:400;color:#141414;font-family:'Liberation Sans', sans-serif;letter-spacing:-0.141px;-webkit-text-stroke:0.15px #141414;">GS 521 WHI - 18MM X 55M</span>
<span class="t" id="t44" style="left:174px;top:255.00px;font-size:7.9px;line-height:12px;font-weight:400;color:#141414;font-family:'Liberation Sans', sans-serif;letter-spacing:0.009px;-webkit-text-stroke:0.15px #141414;">Winters Method (Additive)</span>
<span class="t" id="t45" style="left:270.6px;top:255.00px;font-size:8.1px;line-height:13px;font-weight:400;color:#141414;font-family:'Liberation Sans', sans-serif;letter-spacing:-0.254px;-webkit-text-stroke:0.2px #141414;">4530</span>
<span class="t" id="t46" style="left:325.2px;top:255.00px;font-size:9.2px;line-height:14px;font-weight:400;color:#141414;font-family:'Liberation Sans', sans-serif;letter-spacing:-0.208px;-webkit-text-stroke:0.15px #141414;">78, 478</span>
<span class="t" id="t47" style="left:367.9px;top:255.00px;font-size:8.4px;line-height:13px;font-weight:400;color:#141414;font-family:'Liberation Sans', sans-serif;letter-spacing:0.129px;-webkit-text-stroke:0.15px #141414;">33,456</span>
<span class="t" id="t48" style="left:424.3px;top:255.00px;font-size:9.2px;line-height:14px;font-weight:400;color:#141414;font-family:'Liberation Sans', sans-serif;letter-spacing:-0.402px;-webkit-text-stroke:0.15px #141414;">93.589</span>
<span class="t" id="t49" style="left:20px;top:275.00px;font-size:7.9px;line-height:12px;font-weight:400;color:#141414;font-family:'Liberation Sans', sans-serif;letter-spacing:-0.142px;-webkit-text-stroke:0.15px #141414;">Product 1</span>
<span class="t" id="t50" style="left:69px;top:276.00px;font-size:7.9px;line-height:12px;font-weight:400;color:#141414;font-family:'Liberation Sans', sans-serif;letter-spacing:-0.141px;-webkit-text-stroke:0.15px #141414;">GS 521 WHI - 18MM X 55M</span>
<span class="t" id="t51" style="left:174px;top:275.00px;font-size:7.9px;line-height:12px;font-weight:400;color:#141414;font-family:'Liberation Sans', sans-serif;letter-spacing:0.009px;-webkit-text-stroke:0.15px #141414;">Winters Method (Additive)</span>
<span class="t" id="t52" style="left:270.6px;top:275.00px;font-size:8.1px;line-height:13px;font-weight:400;color:#141414;font-family:'Liberation Sans', sans-serif;letter-spacing:-0.254px;-webkit-text-stroke:0.2px #141414;">4530</span>
<span class="t" id="t53" style="left:325.2px;top:275.00px;font-size:9.2px;line-height:14px;font-weight:400;color:#141414;font-family:'Liberation Sans', sans-serif;letter-spacing:-0.208px;-webkit-text-stroke:0.15px #141414;">78, 478</span>
<span class="t" id="t54" style="left:367.9px;top:275.00px;font-size:8.4px;line-height:13px;font-weight:400;color:#141414;font-family:'Liberation Sans', sans-serif;letter-spacing:0.129px;-webkit-text-stroke:0.15px #141414;">33,456</span>
<span class="t" id="t55" style="left:424.3px;top:275.00px;font-size:9.2px;line-height:14px;font-weight:400;color:#141414;font-family:'Liberation Sans', sans-serif;letter-spacing:-0.402px;-webkit-text-stroke:0.15px #141414;">93.589</span>
<span class="t" id="t56" style="left:20px;top:295.00px;font-size:7.9px;line-height:12px;font-weight:400;color:#141414;font-family:'Liberation Sans', sans-serif;letter-spacing:-0.142px;-webkit-text-stroke:0.15px #141414;">Product 1</span>
<span class="t" id="t57" style="left:69px;top:297.00px;font-size:7.9px;line-height:12px;font-weight:400;color:#141414;font-family:'Liberation Sans', sans-serif;letter-spacing:-0.141px;-webkit-text-stroke:0.15px #141414;">GS 521 WHI - 18MM X 55M</span>
<span class="t" id="t58" style="left:174px;top:295.00px;font-size:7.9px;line-height:12px;font-weight:400;color:#141414;font-family:'Liberation Sans', sans-serif;letter-spacing:0.009px;-webkit-text-stroke:0.15px #141414;">Winters Method (Additive)</span>
<span class="t" id="t59" style="left:270.6px;top:295.00px;font-size:8.1px;line-height:13px;font-weight:400;color:#141414;font-family:'Liberation Sans', sans-serif;letter-spacing:-0.254px;-webkit-text-stroke:0.2px #141414;">4530</span>
<span class="t" id="t60" style="left:325.2px;top:295.00px;font-size:9.2px;line-height:14px;font-weight:400;color:#141414;font-family:'Liberation Sans', sans-serif;letter-spacing:-0.208px;-webkit-text-stroke:0.15px #141414;">78, 478</span>
<span class="t" id="t61" style="left:367.9px;top:295.00px;font-size:8.4px;line-height:13px;font-weight:400;color:#141414;font-family:'Liberation Sans', sans-serif;letter-spacing:0.129px;-webkit-text-stroke:0.15px #141414;">33,456</span>
<span class="t" id="t62" style="left:424.3px;top:295.00px;font-size:9.2px;line-height:14px;font-weight:400;color:#141414;font-family:'Liberation Sans', sans-serif;letter-spacing:-0.402px;-webkit-text-stroke:0.15px #141414;">93.589</span>
<span class="t" id="t63" style="left:20px;top:315.00px;font-size:7.9px;line-height:12px;font-weight:400;color:#141414;font-family:'Liberation Sans', sans-serif;letter-spacing:-0.142px;-webkit-text-stroke:0.15px #141414;">Product 1</span>
<span class="t" id="t64" style="left:69px;top:315.00px;font-size:7.9px;line-height:12px;font-weight:400;color:#141414;font-family:'Liberation Sans', sans-serif;letter-spacing:-0.141px;-webkit-text-stroke:0.15px #141414;">GS 521 WHI - 18MM X 55M</span>
<span class="t" id="t65" style="left:174px;top:315.00px;font-size:7.9px;line-height:12px;font-weight:400;color:#141414;font-family:'Liberation Sans', sans-serif;letter-spacing:0.009px;-webkit-text-stroke:0.15px #141414;">Winters Method (Additive)</span>
<span class="t" id="t66" style="left:270.6px;top:315.00px;font-size:8.1px;line-height:13px;font-weight:400;color:#141414;font-family:'Liberation Sans', sans-serif;letter-spacing:-0.254px;-webkit-text-stroke:0.2px #141414;">4530</span>
<span class="t" id="t67" style="left:325.2px;top:315.00px;font-size:9.2px;line-height:14px;font-weight:400;color:#141414;font-family:'Liberation Sans', sans-serif;letter-spacing:-0.208px;-webkit-text-stroke:0.15px #141414;">78, 478</span>
<span class="t" id="t68" style="left:367.9px;top:315.00px;font-size:8.4px;line-height:13px;font-weight:400;color:#141414;font-family:'Liberation Sans', sans-serif;letter-spacing:0.129px;-webkit-text-stroke:0.15px #141414;">33,456</span>
<span class="t" id="t69" style="left:424.3px;top:315.00px;font-size:9.2px;line-height:14px;font-weight:400;color:#141414;font-family:'Liberation Sans', sans-serif;letter-spacing:-0.402px;-webkit-text-stroke:0.15px #141414;">93.589</span>
<span class="t" id="t70" style="left:684.1px;top:208.00px;font-size:8.4px;line-height:13px;font-weight:400;color:#505050;font-family:'Liberation Sans', sans-serif;letter-spacing:0.025px;-webkit-text-stroke:0.2px #505050;">Forecast Sale</span>
<span class="t" id="t71" style="left:684.1px;top:221.00px;font-size:8.4px;line-height:13px;font-weight:400;color:#505050;font-family:'Liberation Sans', sans-serif;letter-spacing:0.075px;-webkit-text-stroke:0.2px #505050;">Actual Sale</span>
<span class="t" id="t72" style="left:490.0px;top:320.00px;font-size:7px;line-height:11px;font-weight:400;color:#444;font-family:'DejaVu Sans', 'Liberation Sans', sans-serif;letter-spacing:-0.252px;-webkit-text-stroke:0.2px #444;">Product 1</span>
<span class="t" id="t73" style="left:539.5px;top:320.00px;font-size:7px;line-height:11px;font-weight:400;color:#444;font-family:'DejaVu Sans', 'Liberation Sans', sans-serif;letter-spacing:-0.252px;-webkit-text-stroke:0.2px #444;">Product 1</span>
<span class="t" id="t74" style="left:595.5px;top:320.00px;font-size:7px;line-height:11px;font-weight:400;color:#444;font-family:'DejaVu Sans', 'Liberation Sans', sans-serif;letter-spacing:-0.252px;-webkit-text-stroke:0.2px #444;">Product 1</span>
<span class="t" id="t75" style="left:647.3px;top:320.00px;font-size:7px;line-height:11px;font-weight:400;color:#444;font-family:'DejaVu Sans', 'Liberation Sans', sans-serif;letter-spacing:-0.252px;-webkit-text-stroke:0.2px #444;">Product 1</span>
<span class="t" id="t76" style="left:703.1px;top:320.00px;font-size:7px;line-height:11px;font-weight:400;color:#444;font-family:'DejaVu Sans', 'Liberation Sans', sans-serif;letter-spacing:-0.252px;-webkit-text-stroke:0.2px #444;">Product 1</span>
<span class="t" id="t77" style="left:20px;top:395.00px;font-size:8.8px;line-height:13px;font-weight:700;color:#1d1d1d;font-family:'Liberation Sans', sans-serif;letter-spacing:-0.533px;">Product</span>
<span class="t" id="t78" style="left:65px;top:395.00px;font-size:8.8px;line-height:13px;font-weight:700;color:#1d1d1d;font-family:'Liberation Sans', sans-serif;letter-spacing:-0.425px;">Product Description</span>
<span class="t" id="t79" style="left:20px;top:423.00px;font-size:7.9px;line-height:12px;font-weight:400;color:#141414;font-family:'Liberation Sans', sans-serif;letter-spacing:-0.142px;-webkit-text-stroke:0.15px #141414;">Product 1</span>
<span class="t" id="t80" style="left:65px;top:423.00px;font-size:7.9px;line-height:12px;font-weight:400;color:#141414;font-family:'Liberation Sans', sans-serif;letter-spacing:-0.141px;-webkit-text-stroke:0.15px #141414;">GS 521 WHI - 18MM X 55M</span>
<span class="t" id="t81" style="left:20px;top:445.00px;font-size:7.9px;line-height:12px;font-weight:400;color:#fff;font-family:'Liberation Sans', sans-serif;letter-spacing:-0.142px;-webkit-text-stroke:0.15px #fff;">Product 1</span>
<span class="t" id="t82" style="left:65px;top:445.00px;font-size:7.9px;line-height:12px;font-weight:400;color:#fff;font-family:'Liberation Sans', sans-serif;letter-spacing:-0.141px;-webkit-text-stroke:0.15px #fff;">GS 521 WHI - 18MM X 55M</span>
<span class="t" id="t83" style="left:20px;top:465.00px;font-size:7.9px;line-height:12px;font-weight:400;color:#141414;font-family:'Liberation Sans', sans-serif;letter-spacing:-0.142px;-webkit-text-stroke:0.15px #141414;">Product 1</span>
<span class="t" id="t84" style="left:65px;top:465.00px;font-size:7.9px;line-height:12px;font-weight:400;color:#141414;font-family:'Liberation Sans', sans-serif;letter-spacing:-0.141px;-webkit-text-stroke:0.15px #141414;">GS 521 WHI - 18MM X 55M</span>
<span class="t" id="t85" style="left:20px;top:485.00px;font-size:7.9px;line-height:12px;font-weight:400;color:#141414;font-family:'Liberation Sans', sans-serif;letter-spacing:-0.142px;-webkit-text-stroke:0.15px #141414;">Product 1</span>
<span class="t" id="t86" style="left:65px;top:485.00px;font-size:7.9px;line-height:12px;font-weight:400;color:#141414;font-family:'Liberation Sans', sans-serif;letter-spacing:-0.141px;-webkit-text-stroke:0.15px #141414;">GS 521 WHI - 18MM X 55M</span>
<span class="t" id="t87" style="left:20px;top:505.00px;font-size:7.9px;line-height:12px;font-weight:400;color:#141414;font-family:'Liberation Sans', sans-serif;letter-spacing:-0.142px;-webkit-text-stroke:0.15px #141414;">Product 1</span>
<span class="t" id="t88" style="left:65px;top:505.00px;font-size:7.9px;line-height:12px;font-weight:400;color:#141414;font-family:'Liberation Sans', sans-serif;letter-spacing:-0.141px;-webkit-text-stroke:0.15px #141414;">GS 521 WHI - 18MM X 55M</span>
<span class="t" id="t89" style="left:20px;top:525.00px;font-size:7.9px;line-height:12px;font-weight:400;color:#141414;font-family:'Liberation Sans', sans-serif;letter-spacing:-0.142px;-webkit-text-stroke:0.15px #141414;">Product 1</span>
<span class="t" id="t90" style="left:65px;top:525.00px;font-size:7.9px;line-height:12px;font-weight:400;color:#141414;font-family:'Liberation Sans', sans-serif;letter-spacing:-0.141px;-webkit-text-stroke:0.15px #141414;">GS 521 WHI - 18MM X 55M</span>
<span class="t" id="t91" style="left:20px;top:545.00px;font-size:7.9px;line-height:12px;font-weight:400;color:#141414;font-family:'Liberation Sans', sans-serif;letter-spacing:-0.142px;-webkit-text-stroke:0.15px #141414;">Product 1</span>
<span class="t" id="t92" style="left:65px;top:545.00px;font-size:7.9px;line-height:12px;font-weight:400;color:#141414;font-family:'Liberation Sans', sans-serif;letter-spacing:-0.141px;-webkit-text-stroke:0.15px #141414;">GS 521 WHI - 18MM X 55M</span>
<span class="t" id="t93" style="left:190px;top:402.00px;font-size:7.8px;line-height:12px;font-weight:400;color:#5a5a5a;font-family:'Liberation Sans', sans-serif;letter-spacing:-0.144px;">40</span>
<span class="t" id="t94" style="left:190px;top:421.00px;font-size:7.8px;line-height:12px;font-weight:400;color:#5a5a5a;font-family:'Liberation Sans', sans-serif;letter-spacing:-0.144px;">35</span>
<span class="t" id="t95" style="left:190px;top:441.00px;font-size:7.8px;line-height:12px;font-weight:400;color:#5a5a5a;font-family:'Liberation Sans', sans-serif;letter-spacing:-0.144px;">30</span>
<span class="t" id="t96" style="left:190px;top:463.00px;font-size:7.8px;line-height:12px;font-weight:400;color:#5a5a5a;font-family:'Liberation Sans', sans-serif;letter-spacing:-0.144px;">25</span>
<span class="t" id="t97" style="left:190px;top:485.00px;font-size:7.8px;line-height:12px;font-weight:400;color:#5a5a5a;font-family:'Liberation Sans', sans-serif;letter-spacing:-0.144px;">20</span>
<span class="t" id="t98" style="left:190px;top:506.00px;font-size:7.8px;line-height:12px;font-weight:400;color:#5a5a5a;font-family:'Liberation Sans', sans-serif;letter-spacing:-0.144px;">15</span>
<span class="t" id="t99" style="left:190px;top:529.00px;font-size:7.8px;line-height:12px;font-weight:400;color:#5a5a5a;font-family:'Liberation Sans', sans-serif;letter-spacing:-0.144px;">10</span>
<span class="t" id="t100" style="left:193.5px;top:550.00px;font-size:7.8px;line-height:12px;font-weight:400;color:#5a5a5a;font-family:'Liberation Sans', sans-serif;letter-spacing:-0.044px;">5</span>
<span class="t" id="t101" style="left:193.5px;top:570.00px;font-size:7.8px;line-height:12px;font-weight:400;color:#5a5a5a;font-family:'Liberation Sans', sans-serif;letter-spacing:-0.044px;">0</span>
<span class="t" id="t102" style="left:190px;top:595.00px;font-size:7.8px;line-height:12px;font-weight:400;color:#5a5a5a;font-family:'Liberation Sans', sans-serif;letter-spacing:0.331px;">-5</span>
<span class="t" id="t103" style="left:248.7px;top:602.00px;font-size:8.2px;line-height:13px;font-weight:400;color:#555;font-family:'Liberation Sans', sans-serif;letter-spacing:0.052px;-webkit-text-stroke:0.1px #555;">-20</span>
<span class="t" id="t104" style="left:299.3px;top:602.00px;font-size:8.2px;line-height:13px;font-weight:400;color:#555;font-family:'Liberation Sans', sans-serif;letter-spacing:0.052px;-webkit-text-stroke:0.1px #555;">-15</span>
<span class="t" id="t105" style="left:346.2px;top:602.00px;font-size:8.2px;line-height:13px;font-weight:400;color:#555;font-family:'Liberation Sans', sans-serif;letter-spacing:0.052px;-webkit-text-stroke:0.1px #555;">-10</span>
<span class="t" id="t106" style="left:395.5px;top:602.00px;font-size:8.2px;line-height:13px;font-weight:400;color:#555;font-family:'Liberation Sans', sans-serif;letter-spacing:0.359px;-webkit-text-stroke:0.1px #555;">-5</span>
<span class="t" id="t107" style="left:444.75px;top:602.00px;font-size:8.2px;line-height:13px;font-weight:400;color:#555;font-family:'Liberation Sans', sans-serif;letter-spacing:-0.062px;-webkit-text-stroke:0.1px #555;">0</span>
<span class="t" id="t108" style="left:492.25px;top:602.00px;font-size:8.2px;line-height:13px;font-weight:400;color:#555;font-family:'Liberation Sans', sans-serif;letter-spacing:-0.062px;-webkit-text-stroke:0.1px #555;">5</span>
<span class="t" id="t109" style="left:543.2px;top:602.00px;font-size:8.2px;line-height:13px;font-weight:400;color:#555;font-family:'Liberation Sans', sans-serif;letter-spacing:-0.055px;-webkit-text-stroke:0.1px #555;">10</span>
<span class="t" id="t110" style="left:592.4px;top:602.00px;font-size:8.2px;line-height:13px;font-weight:400;color:#555;font-family:'Liberation Sans', sans-serif;letter-spacing:-0.055px;-webkit-text-stroke:0.1px #555;">15</span>
<span class="t" id="t111" style="left:638.7px;top:602.00px;font-size:8.2px;line-height:13px;font-weight:400;color:#555;font-family:'Liberation Sans', sans-serif;letter-spacing:-0.055px;-webkit-text-stroke:0.1px #555;">20</span>
<span class="t" id="t112" style="left:686.0px;top:602.00px;font-size:8.2px;line-height:13px;font-weight:400;color:#555;font-family:'Liberation Sans', sans-serif;letter-spacing:-0.055px;-webkit-text-stroke:0.1px #555;">25</span>
<span class="t" id="t113" style="left:731.8px;top:603.00px;font-size:8px;line-height:12px;font-weight:400;color:#777;font-family:'Liberation Sans', sans-serif;letter-spacing:-0.225px;">%</span>
<span class="t" id="t114" style="left:664px;top:393.00px;font-size:8.2px;line-height:13px;font-weight:400;color:#707070;font-family:'Liberation Sans', sans-serif;letter-spacing:0.098px;">Outliers</span>
<span class="t" id="t115" style="left:221.9px;top:511.00px;font-size:13px;line-height:19px;font-weight:700;color:#111;font-family:'Liberation Serif', serif;transform:scaleX(0.7019);transform-origin:0 50%;">&#945;</span>
<span class="t" id="t116" style="left:227.3px;top:515.00px;font-size:9px;line-height:14px;font-weight:400;color:#6a6a6a;font-family:'Liberation Serif', serif;letter-spacing:0.442px;-webkit-text-stroke:0.1px #6a6a6a;">/2</span>
<span class="t" id="t117" style="left:219.2px;top:517.00px;font-size:7px;line-height:11px;font-weight:400;color:#555;font-family:'Liberation Serif', serif;transform:scaleX(0.6400);transform-origin:0 50%;">-</span>
<span class="t" id="t118" style="left:711.9px;top:513.00px;font-size:13px;line-height:19px;font-weight:700;color:#111;font-family:'Liberation Serif', serif;transform:scaleX(0.7019);transform-origin:0 50%;">&#945;</span>
<span class="t" id="t119" style="left:717.3px;top:517.00px;font-size:9px;line-height:14px;font-weight:400;color:#6a6a6a;font-family:'Liberation Serif', serif;letter-spacing:0.642px;-webkit-text-stroke:0.1px #6a6a6a;">/2</span>
<span class="t" id="t120" style="left:7.3px;top:630.00px;font-size:7.3px;line-height:11px;font-weight:400;color:#ffffff;font-family:'Liberation Sans', sans-serif;letter-spacing:-0.124px;-webkit-text-stroke:0.25px #ffffff;">Copyright &copy; 2012 Steelwedge Software, Inc.</span>
<span class="t" id="t121" style="left:305px;top:630.00px;font-size:7.3px;line-height:11px;font-weight:400;color:#ffffff;font-family:'Liberation Sans', sans-serif;letter-spacing:-0.204px;-webkit-text-stroke:0.25px #ffffff;">Last Updated On: 2012-01-13 03:51:11.817 PST</span>
<span class="t" id="t122" style="left:665.5px;top:630.00px;font-size:7.3px;line-height:11px;font-weight:400;color:#ffffff;font-family:'Liberation Sans', sans-serif;letter-spacing:-0.266px;-webkit-text-stroke:0.25px #ffffff;">Privacy Policy | Terms of Use</span>
</body></html>
